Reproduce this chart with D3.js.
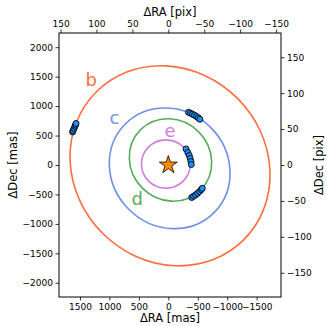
<!DOCTYPE html>
<html>
<head>
<meta charset="utf-8">
<script src="https://cdn.jsdelivr.net/npm/d3@7"></script>
<style>
  body { margin: 0; background: #fff; }
  svg { font-family: "DejaVu Sans", sans-serif; }
</style>
</head>
<body>
<div id="chart"></div>
<script>
// planets and fitted orbits (sky-plane ellipses, mas)
const planets = ["b", "c", "d", "e"];
const orbitRA = [-29, -23, -37, 41];
const orbitDec = [-14, -56, 85, 17];
const orbitA = [1773, 1065, 722, 415];
const orbitB = [1620, 983, 676, 410];
const orbitTilt = [45, 45, 45, 0];

// astrometry points (mas)
const bRA = [1625, 1615, 1601, 1587, 1576, 1567];
const bDec = [560, 586, 620, 654, 679, 705];
const cRA = [-343, -377, -411, -445, -479, -509, -535];
const cDec = [895, 879, 862, 844, 823, 801, 776];
const dRA = [-397, -428, -462, -496, -530, -560, -577];
const dDec = [-552, -531, -509, -480, -450, -418, -396];
const eRA = [-301, -331, -355, -372, -384, -390];
const eDec = [272, 212, 161, 110, 59, 8];

const masTicks = [1500, 1000, 500, 0, -500, -1000, -1500];
const decTicks = [2000, 1500, 1000, 500, 0, -500, -1000, -1500, -2000];
const pixTicks = [150, 100, 50, 0, -50, -100, -150];
const pixScale = 12.2; // mas per pixel

const colors = ["#ff6e40", "#6f8fe8", "#58ab58", "#d07edc"];
const labelPos = [[1307, 1341], [913, 696], [528, -679], [-29, 475]];

const W = 327, H = 326;
const box = {left: 59, right: 281, top: 33, bottom: 297};

const svg = d3.select("#chart").append("svg")
  .attr("width", W).attr("height", H);

const x = d3.scaleLinear().domain([1856, -1913]).range([box.left, box.right]);
const y = d3.scaleLinear().domain([2241, -2241]).range([box.top, box.bottom]);
const xPix = d3.scaleLinear().domain(x.domain().map(v => v / pixScale)).range(x.range());
const yPix = d3.scaleLinear().domain(y.domain().map(v => v / pixScale)).range(y.range());
const k = Math.abs(x(1) - x(0));
const fmt = d3.format("d");

// orbits
const orbits = planets.map((p, i) => ({
  name: p, ra: orbitRA[i], dec: orbitDec[i], a: orbitA[i], b: orbitB[i], tilt: orbitTilt[i]
}));

svg.append("g").selectAll("ellipse")
  .data(orbits)
  .enter().append("ellipse")
  .attr("transform", d => `translate(${x(d.ra)},${y(d.dec)}) rotate(${d.tilt})`)
  .attr("rx", d => d.a * k)
  .attr("ry", d => d.b * k)
  .attr("fill", "none")
  .attr("stroke", (d, i) => colors[i])
  .attr("stroke-width", 1.6);

svg.append("g").selectAll("text")
  .data(orbits)
  .enter().append("text")
  .attr("x", (d, i) => x(labelPos[i][0]))
  .attr("y", (d, i) => y(labelPos[i][1]))
  .attr("text-anchor", "middle")
  .attr("font-size", 18)
  .attr("fill", (d, i) => colors[i])
  .text(d => d.name);

// astrometry
const pts = [];
[[bRA, bDec], [cRA, cDec], [dRA, dDec], [eRA, eDec]].forEach(([ra, dec]) => {
  ra.forEach((v, j) => pts.push({ra: v, dec: dec[j]}));
});

svg.append("g").selectAll("circle")
  .data(pts)
  .enter().append("circle")
  .attr("cx", d => x(d.ra))
  .attr("cy", d => y(d.dec))
  .attr("r", 3)
  .attr("fill", "#1e8fff")
  .attr("stroke", "#000")
  .attr("stroke-width", 0.9);

// star
svg.append("path")
  .attr("d", d3.symbol(d3.symbolStar, 100)())
  .attr("transform", `translate(${x(0)},${y(0)})`)
  .attr("fill", "#ff8c00")
  .attr("stroke", "#000")
  .attr("stroke-width", 0.8);

// axes
const styleAxis = g => {
  g.select(".domain").remove();
  g.selectAll("line").attr("stroke", "#000").attr("stroke-width", 0.8);
  g.selectAll("text").attr("font-size", 9).attr("fill", "#000")
    .attr("font-family", "DejaVu Sans, sans-serif");
};

svg.append("g").attr("transform", `translate(0,${box.bottom})`)
  .call(d3.axisBottom(x).tickValues(masTicks).tickFormat(fmt).tickSize(3.5).tickPadding(3))
  .call(styleAxis);
svg.append("g").attr("transform", `translate(${box.left},0)`)
  .call(d3.axisLeft(y).tickValues(decTicks).tickFormat(fmt).tickSize(3.5).tickPadding(2.5))
  .call(styleAxis);
svg.append("g").attr("transform", `translate(0,${box.top})`)
  .call(d3.axisTop(xPix).tickValues(pixTicks).tickFormat(fmt).tickSize(3.5).tickPadding(3))
  .call(styleAxis);
svg.append("g").attr("transform", `translate(${box.right},0)`)
  .call(d3.axisRight(yPix).tickValues(pixTicks).tickFormat(fmt).tickSize(3.5).tickPadding(2.5))
  .call(styleAxis);

svg.append("rect")
  .attr("x", box.left).attr("y", box.top)
  .attr("width", box.right - box.left).attr("height", box.bottom - box.top)
  .attr("fill", "none").attr("stroke", "#000").attr("stroke-width", 1);

// axis titles
const title = (tx, ty, rot, s) => svg.append("text")
  .attr("transform", `translate(${tx},${ty}) rotate(${rot})`)
  .attr("text-anchor", "middle")
  .attr("font-size", 11.5)
  .text(s);

title((box.left + box.right) / 2, 322, 0, "ΔRA [mas]");
title((box.left + box.right) / 2, 16, 0, "ΔRA [pix]");
title(17, (box.top + box.bottom) / 2, -90, "ΔDec [mas]");
title(323, (box.top + box.bottom) / 2, -90, "ΔDec [pix]");
</script>
</body>
</html>
